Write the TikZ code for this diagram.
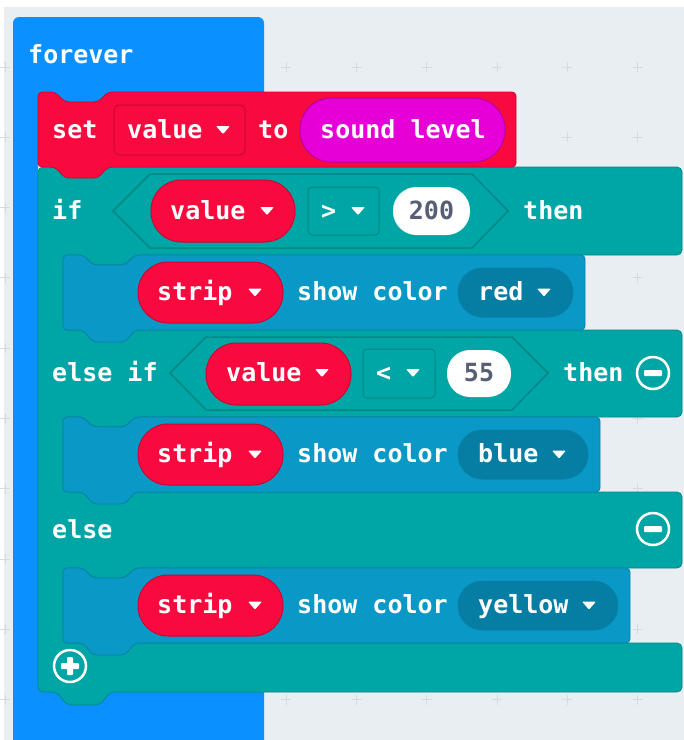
\documentclass[tikz,border=0pt]{standalone}
\usepackage{fontspec}
\newfontfamily\blockfont{DejaVu Sans Mono}
\definecolor{bgcol}{HTML}{E9EEF2}
\definecolor{gridcol}{HTML}{D3DAE0}
\definecolor{basic}{HTML}{0A91FF}
\definecolor{vars}{HTML}{F80A3E}
\definecolor{varsdark}{HTML}{C90733}
\definecolor{inputcol}{HTML}{E600D7}
\definecolor{inputdark}{HTML}{B300A8}
\definecolor{logic}{HTML}{00A5A5}
\definecolor{logicdark}{HTML}{008788}
\definecolor{neo}{HTML}{0A99C6}
\definecolor{neodark}{HTML}{0881A8}
\definecolor{neodrop}{HTML}{067DA2}
\definecolor{numtext}{HTML}{575E75}
\begin{document}
\begin{tikzpicture}[x=1pt,y=-1pt,
    lbl/.style={font=\blockfont\bfseries\fontsize{25}{30}\selectfont,text=white,inner sep=0pt,anchor=base west},
    numlbl/.style={lbl,text=numtext,anchor=base},
    drop/.style={fill=white,rounded corners=1},
    icon/.style={draw=white,line width=2.5}]
    \useasboundingbox (0,0) rectangle (684,740);
    %% Background
    \fill[white] (0,0) rectangle (684,740);
    \fill[bgcol] (4,7) rectangle (684,740);
    \foreach \gx in {5,75.3,...,680}
        \foreach \gy in {67,137.3,...,740}
            \draw[gridcol,line width=1] (\gx-5,\gy) -- (\gx+5,\gy) (\gx,\gy-5) -- (\gx,\gy+5);
    %% forever
    \fill[basic,rounded corners=6] (13,17) -- (264,17) -- (264,104) -- (38,104) -- (38,684) -- (264,684) -- (264,748) -- (13,748) -- cycle;
    \node[lbl] (forever) at (28,63) {forever};
    %% if / else if / else
    \filldraw[fill=logic,draw=logicdark,line width=.8,rounded corners=5] (38,167) -- (55,167) -- (65,177) -- (98,177) -- (108,167) -- (682,167)
        -- (682,255) -- (135,255) -- (125,265) -- (93,265) -- (83,255) -- (63,255) -- (63,330) -- (682,330)
        -- (682,417) -- (135,417) -- (125,427) -- (93,427) -- (83,417) -- (63,417) -- (63,492) -- (682,492)
        -- (682,568) -- (135,568) -- (125,578) -- (93,578) -- (83,568) -- (63,568) -- (63,643) -- (682,643)
        -- (682,692) -- (110,692) -- (100,705) -- (67,705) -- (57,692) -- (38,692) -- cycle;
    \node[lbl] (if) at (52,219) {if};
    \node[lbl] (elseif) at (52,381) {else if};
    \node[lbl] (else) at (52,538) {else};
    %% condition 1
    \draw[logicdark,line width=1.5] (113,211) -- (150,174) -- (472,174) -- (508,211) -- (472,248) -- (150,248) -- cycle;
    \filldraw[fill=vars,draw=varsdark,line width=1,rounded corners=30.5] (151,180) rectangle (295,242);
    \node[lbl] (var1) at (170,219) {value};
    \fill[drop] (260,207) -- (274,207) -- (267,215) -- cycle;
    \draw[logicdark,line width=1,rounded corners=4] (308,187) rectangle (379,235);
    \node[lbl] (op1) at (321,219) {>};
    \fill[drop] (351,207) -- (365,207) -- (358,215) -- cycle;
    \fill[white,rounded corners=23.5] (393,187) rectangle (470,235);
    \node[numlbl] (num1) at (431.5,219) {200};
    \node[lbl] (then1) at (523,219) {then};
    %% condition 2
    \draw[logicdark,line width=1.5] (170,373) -- (206,337) -- (512,337) -- (548,373) -- (512,410) -- (206,410) -- cycle;
    \filldraw[fill=vars,draw=varsdark,line width=1,rounded corners=30.5] (206,343) rectangle (351,405);
    \node[lbl] (var2) at (226,381) {value};
    \fill[drop] (315,369) -- (329,369) -- (322,377) -- cycle;
    \draw[logicdark,line width=1,rounded corners=4] (363,349) rectangle (435,398);
    \node[lbl] (op2) at (376,381) {<};
    \fill[drop] (406,369) -- (420,369) -- (413,377) -- cycle;
    \fill[white,rounded corners=23] (447,350) rectangle (511,397);
    \node[numlbl] (num2) at (479,381) {55};
    \node[lbl] (then2) at (563,381) {then};
    %% minus / plus
    \foreach \my in {373,529} {
        \draw[icon] (653,\my) circle[radius=16];
        \fill[white,rounded corners=1] (644,\my-3) rectangle (662,\my+3);
    }
    \draw[icon] (70,666) circle[radius=16];
    \fill[white,rounded corners=1] (61,663) rectangle (79,669);
    \fill[white,rounded corners=1] (67,657) rectangle (73,675);
    %% strip blocks
    \foreach \top/\right/\col in {255/585/red,417/600/blue,568/630/yellow} {
        \filldraw[fill=neo,draw=neodark,line width=.8,rounded corners=4] (63,\top) -- (83,\top) -- (93,\top+10) -- (125,\top+10) -- (135,\top) -- (\right,\top)
            -- (\right,\top+75) -- (135,\top+75) -- (125,\top+87) -- (93,\top+87) -- (83,\top+75) -- (63,\top+75) -- cycle;
        \filldraw[fill=vars,draw=varsdark,line width=1,rounded corners=30] (138,\top+7) rectangle (283,\top+68);
        \node[lbl] (strip\col) at (157,\top+45.5) {strip};
        \fill[drop] (248,\top+33.5) -- (262,\top+33.5) -- (255,\top+41.5) -- cycle;
        \node[lbl] (show\col) at (297,\top+45.5) {show color};
        \filldraw[fill=neodrop,draw=neodark,line width=1,rounded corners=24.5] (458,\top+13) rectangle (\right-12,\top+62);
        \node[lbl] (col\col) at (478,\top+45.5) {\col};
        \fill[drop] (\right-48,\top+33.5) -- (\right-34,\top+33.5) -- (\right-41,\top+41.5) -- cycle;
    }
    %% set value to sound level
    \filldraw[fill=vars,draw=varsdark,line width=.8,rounded corners=4] (38,92) -- (55,92) -- (65,102) -- (98,102) -- (108,92) -- (516,92)
        -- (516,167) -- (108,167) -- (98,178) -- (65,178) -- (55,167) -- (38,167) -- cycle;
    \node[lbl] (set) at (52,138) {set};
    \draw[varsdark,line width=1,rounded corners=5] (114,105) rectangle (245,155);
    \node[lbl] (setvar) at (127,138) {value};
    \fill[drop] (216,126) -- (230,126) -- (223,134) -- cycle;
    \node[lbl] (to) at (258,138) {to};
    \filldraw[fill=inputcol,draw=inputdark,line width=1,rounded corners=31.5] (300,98) rectangle (505,162);
    \node[lbl] (sound) at (320,138) {sound level};
\end{tikzpicture}
\end{document}
